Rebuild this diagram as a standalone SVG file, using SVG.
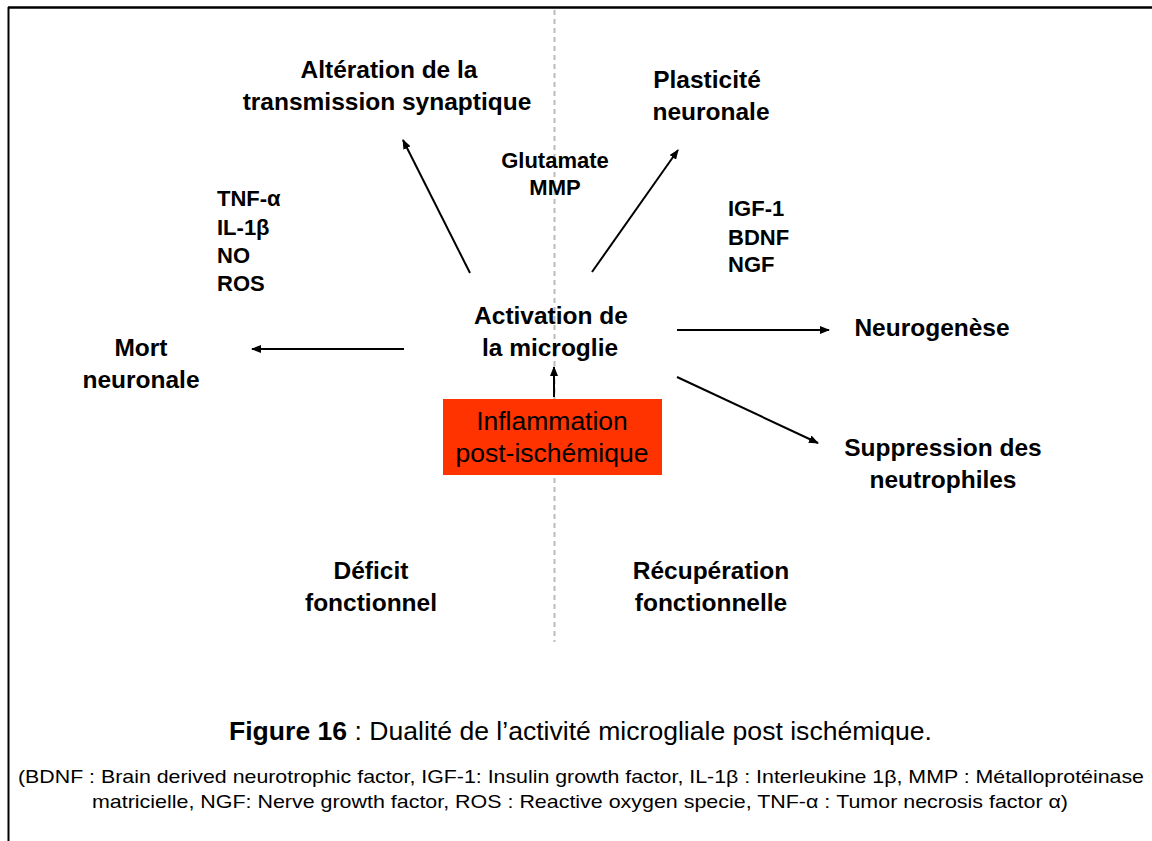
<svg xmlns="http://www.w3.org/2000/svg" width="1152" height="841" viewBox="0 0 1152 841">
<style>
.b{font-family:"Liberation Sans",Arial,sans-serif;font-weight:bold;fill:#000}
.m{font-size:24.5px;text-anchor:middle}
.s{font-size:22px}
.n{font-family:"Liberation Sans",Arial,sans-serif;fill:#000}
.c{stroke:#000;stroke-width:2;fill:none;marker-end:url(#ah)}
</style>
<defs>
<marker id="ah" viewBox="0 0 10 8" refX="9" refY="4" markerWidth="10" markerHeight="8" markerUnits="userSpaceOnUse" orient="auto">
<path d="M0,0 L10,4 L0,8 Z" fill="#000"/>
</marker>
</defs>
<rect width="1152" height="841" fill="#fff"/>
<g id="frame">
<line x1="8" y1="7.5" x2="1152" y2="7.5" stroke="#000" stroke-width="2.5"/>
<line x1="8.5" y1="7" x2="8.5" y2="841" stroke="#000" stroke-width="2"/>
</g>
<line id="divider" x1="554.5" y1="10" x2="554.5" y2="642" stroke="#bbb" stroke-width="2" stroke-dasharray="5,4"/>
<g id="connectors">
<line class="c" x1="470" y1="273" x2="403" y2="140"/>
<line class="c" x1="592" y1="272" x2="678" y2="150"/>
<line class="c" x1="404" y1="349" x2="252" y2="349"/>
<line class="c" x1="677" y1="330" x2="829" y2="330"/>
<line class="c" x1="677" y1="377" x2="818" y2="443"/>
<line class="c" x1="554" y1="397" x2="554" y2="367"/>
</g>
<g id="alteration"><text class="b m" x="389" y="78">Altération de la</text><text class="b m" x="387" y="110">transmission synaptique</text></g>
<g id="plasticite"><text class="b m" x="707" y="88">Plasticité</text><text class="b m" x="711" y="120">neuronale</text></g>
<g id="glutamate"><text class="b s" x="555" y="168" text-anchor="middle">Glutamate</text><text class="b s" x="555" y="195" text-anchor="middle">MMP</text></g>
<g id="pro"><text class="b s" x="217" y="206">TNF-α</text><text class="b s" x="217" y="235">IL-1β</text><text class="b s" x="217" y="263">NO</text><text class="b s" x="217" y="291">ROS</text></g>
<g id="anti"><text class="b s" x="728" y="216">IGF-1</text><text class="b s" x="728" y="245">BDNF</text><text class="b s" x="728" y="272">NGF</text></g>
<g id="activation"><text class="b m" x="551" y="324">Activation de</text><text class="b m" x="550" y="356">la microglie</text></g>
<g id="mort"><text class="b m" x="141" y="356">Mort</text><text class="b m" x="141" y="388">neuronale</text></g>
<g id="neurogenese"><text class="b m" x="932" y="336">Neurogenèse</text></g>
<g id="suppression"><text class="b m" x="943" y="456">Suppression des</text><text class="b m" x="943" y="488">neutrophiles</text></g>
<g id="inflammation"><rect x="443" y="399" width="219" height="76" fill="#ff3300"/><text class="n" x="552" y="430" font-size="26.5" text-anchor="middle">Inflammation</text><text class="n" x="552" y="462" font-size="26.5" text-anchor="middle">post-ischémique</text></g>
<g id="deficit"><text class="b m" x="371" y="579">Déficit</text><text class="b m" x="371" y="611">fonctionnel</text></g>
<g id="recuperation"><text class="b m" x="711" y="579">Récupération</text><text class="b m" x="711" y="611">fonctionnelle</text></g>
<g id="caption">
<text class="n" x="229" y="740" font-size="25" textLength="703" lengthAdjust="spacingAndGlyphs"><tspan font-weight="bold">Figure 16</tspan> : Dualité de l’activité microgliale post ischémique.</text>
<text class="n" x="18" y="783" font-size="18.5" textLength="1126" lengthAdjust="spacingAndGlyphs">(BDNF : Brain derived neurotrophic factor, IGF-1: Insulin growth factor, IL-1β : Interleukine 1β, MMP : Métalloprotéinase</text>
<text class="n" x="92" y="808" font-size="18.5" textLength="976" lengthAdjust="spacingAndGlyphs">matricielle, NGF: Nerve growth factor, ROS : Reactive oxygen specie, TNF-α : Tumor necrosis factor α)</text>
</g>
</svg>
